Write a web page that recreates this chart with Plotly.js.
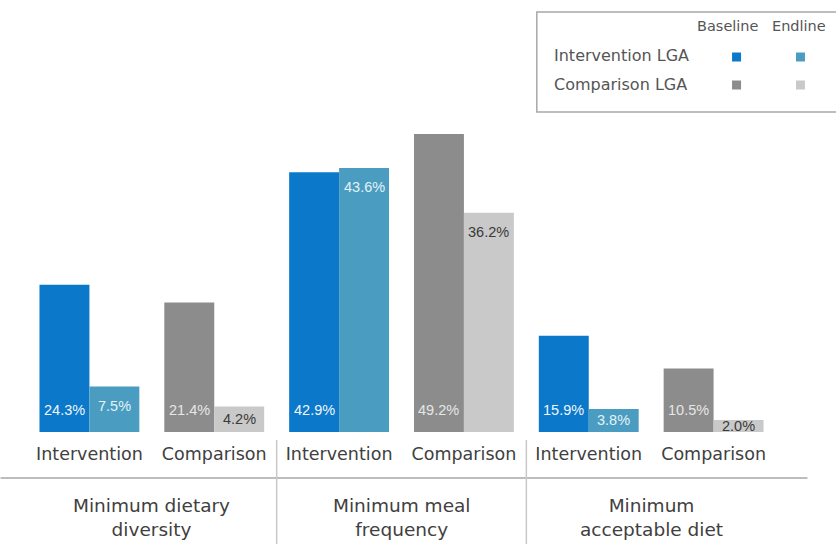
<!DOCTYPE html>
<html>
<head>
<meta charset="utf-8">
<script src="https://cdn.plot.ly/plotly-3.0.1.min.js"></script>
<style>html,body{margin:0;padding:0;background:#fff;}#chart{width:836px;height:544px;}</style>
</head>
<body>
<div id="chart"></div>
<script>
// Data
const indicators = ["Minimum dietary<br>diversity", "Minimum meal<br>frequency", "Minimum<br>acceptable diet"];
const subGroups = ["Intervention", "Comparison", "Intervention", "Comparison", "Intervention", "Comparison"];
const baselineValues = [24.3, 21.4, 42.9, 49.2, 15.9, 10.5];
const endlineValues = [7.5, 4.2, 43.6, 36.2, 3.8, 2.0];
const legendRows = ["Intervention LGA", "Comparison LGA"];
const legendCols = ["Baseline", "Endline"];

const colInterBase = "#0b78c9", colInterEnd = "#4a9dc0", colCompBase = "#8c8c8c", colCompEnd = "#c9c9c9";
const xIdx = subGroups.map((_, i) => i);
const baseColors = subGroups.map(g => g === "Intervention" ? colInterBase : colCompBase);
const endColors = subGroups.map(g => g === "Intervention" ? colInterEnd : colCompEnd);
const baseTextColors = subGroups.map(g => g === "Intervention" ? "#eef6fc" : "#e6e6e6");
const endTextColors = subGroups.map(g => g === "Intervention" ? "#e3f2f8" : "#3a3a3a");
const fmt = v => v.toFixed(1) + "%";

const traces = [
  {type: "bar", name: "Baseline", x: xIdx, y: baselineValues, marker: {color: baseColors}, hoverinfo: "skip"},
  {type: "bar", name: "Endline", x: xIdx, y: endlineValues, marker: {color: endColors}, hoverinfo: "skip"}
];

// geometry helpers (plot area in pixels)
const L = 26.5, R = 59.5, T = 99, B = 112, W = 836, H = 544;
const YMAX = 55;
const pw = W - L - R, ph = H - T - B;
const pxPerUnit = ph / YMAX;
const px = x => (x - L) / pw;
const py = y => (H - B - y) / ph;

const shapes = [
  {type: "line", xref: "paper", yref: "paper", x0: px(0), x1: px(808), y0: py(478), y1: py(478), line: {color: "#bdbdbd", width: 2}},
  {type: "line", xref: "x", yref: "paper", x0: 1.5, x1: 1.5, y0: py(440), y1: py(546), line: {color: "#c8c8c8", width: 1.5}},
  {type: "line", xref: "x", yref: "paper", x0: 3.5, x1: 3.5, y0: py(440), y1: py(546), line: {color: "#c8c8c8", width: 1.5}},
  {type: "rect", xref: "paper", yref: "paper", x0: px(537), x1: px(840), y0: py(112), y1: py(12), line: {color: "#a8a8a8", width: 1.5}, fillcolor: "rgba(0,0,0,0)"}
];
const legendColors = [[colInterBase, colInterEnd], [colCompBase, colCompEnd]];
const sqX = [737, 801], sqY = [57, 85];
legendRows.forEach((r, ri) => legendCols.forEach((c, ci) => {
  shapes.push({type: "rect", xref: "paper", yref: "paper", x0: px(sqX[ci] - 4.5), x1: px(sqX[ci] + 4.5),
    y0: py(sqY[ri] + 4.5), y1: py(sqY[ri] - 4.5), line: {width: 0}, fillcolor: legendColors[ri][ci]});
}));

const fontFam = "'DejaVu Sans', sans-serif";
const labelFam = "'Liberation Sans', Arial, sans-serif";
const annotations = [];
// bar value labels
baselineValues.forEach((v, i) => annotations.push({text: fmt(v), xref: "x", yref: "y", x: i - 0.2, y: 0, yshift: 22,
  xanchor: "center", yanchor: "middle", showarrow: false, font: {family: labelFam, size: 14.5, color: baseTextColors[i]}}));
endlineValues.forEach((v, i) => {
  const hPx = v * pxPerUnit;
  annotations.push({text: fmt(v), xref: "x", yref: "y", x: i + 0.2, y: 0, yshift: Math.max(hPx - 19, hPx / 2),
    xanchor: "center", yanchor: "middle", showarrow: false, font: {family: labelFam, size: 14.5, color: endTextColors[i]}});
});
indicators.forEach((t, i) => annotations.push({text: t, xref: "x", yref: "paper", x: 2 * i + 0.5, y: py(493), yanchor: "top",
  showarrow: false, font: {family: fontFam, size: 18.5, color: "#404040"}, align: "center"}));
const colX = [728, 800];
legendCols.forEach((c, ci) => annotations.push({text: c, xref: "paper", yref: "paper", x: px(colX[ci]), y: py(26),
  xanchor: "center", yanchor: "middle", showarrow: false, font: {family: fontFam, size: 14.5, color: "#555555"}}));
legendRows.forEach((r, ri) => annotations.push({text: r, xref: "paper", yref: "paper", x: px(552), y: py(sqY[ri] - 1),
  xanchor: "left", yanchor: "middle", showarrow: false, font: {family: fontFam, size: 16, color: "#555555"}}));

const layout = {
  width: W, height: H, margin: {l: L, r: R, t: T, b: B},
  paper_bgcolor: "#fff", plot_bgcolor: "#fff", showlegend: false,
  barmode: "group", bargap: 0.2, bargroupgap: 0,
  xaxis: {range: [-0.5, 5.5], tickvals: xIdx, ticktext: subGroups, showgrid: false, zeroline: false, showline: false,
    ticks: "", ticklabelstandoff: 9, tickfont: {family: fontFam, size: 17.5, color: "#404040"}, fixedrange: true},
  yaxis: {range: [0, YMAX], visible: false, showgrid: false, zeroline: false, fixedrange: true},
  shapes: shapes, annotations: annotations
};
Plotly.newPlot("chart", traces, layout, {staticPlot: true});
</script>
</body>
</html>
